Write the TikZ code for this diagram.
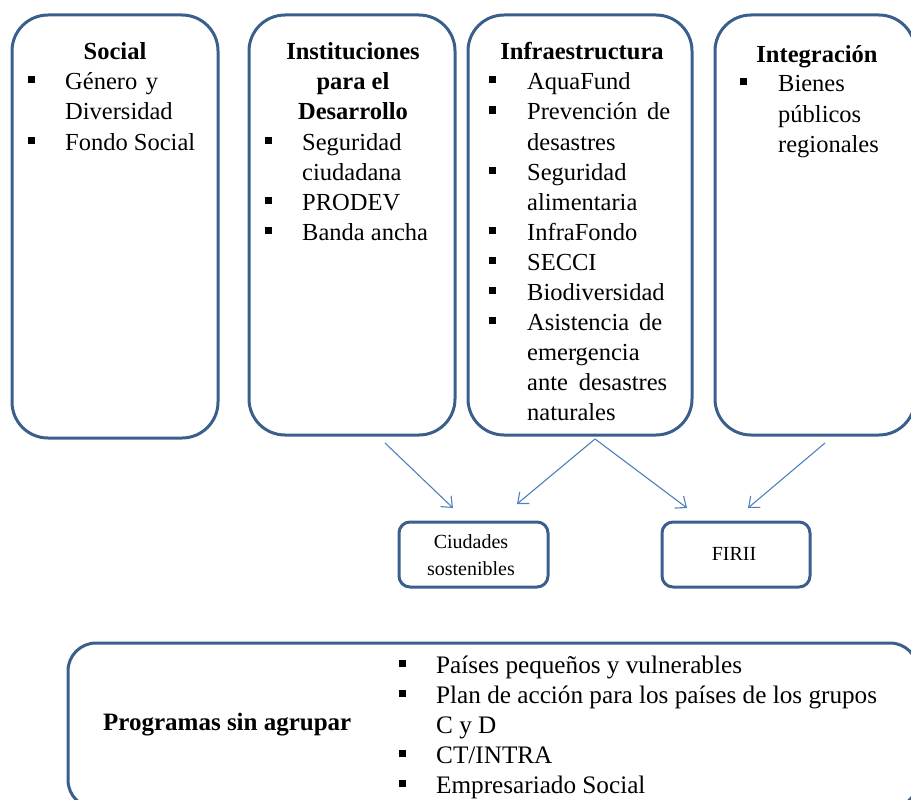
\documentclass[tikz,border=0pt]{standalone}
\usepackage{fontspec}
\setmainfont{Liberation Serif}
\usetikzlibrary{arrows.meta}
\definecolor{boxline}{RGB}{58,95,140}
\definecolor{arrowline}{RGB}{79,129,189}
\begin{document}
\begin{tikzpicture}[x=1pt,y=-1pt,
  bigbox/.style={draw=boxline, line width=3pt, rounded corners=36pt, inner sep=0pt},
  lowbox/.style={draw=boxline, line width=3pt, rounded corners=28pt, inner sep=0pt},
  smallbox/.style={draw=boxline, line width=3pt, rounded corners=11pt, inner sep=0pt},
  txt/.style={inner sep=0pt, anchor=base west, font=\fontsize{24.5}{30}\selectfont},
  ltxt/.style={inner sep=0pt, anchor=base west, font=\fontsize{25.2}{30}\selectfont},
  ttl/.style={inner sep=0pt, anchor=base, font=\fontsize{24.5}{30}\selectfont\bfseries},
  ltl/.style={inner sep=0pt, anchor=base west, font=\fontsize{25}{30}\selectfont\bfseries},
  stxt/.style={inner sep=0pt, anchor=base, font=\fontsize{20}{26}\selectfont},
  bul/.style={fill=black, inner sep=0pt, minimum size=7pt},
  arr/.style={draw=arrowline, line width=1.1pt, -{Straight Barb[length=9pt,width=15pt]}}
]
\useasboundingbox (0,0) rectangle (911,800);

% big boxes
\node[bigbox, minimum width=206pt, minimum height=423pt] (social) at (115,226.5) {};
\node[bigbox, minimum width=206pt, minimum height=420pt] (inst) at (352,225) {};
\node[bigbox, minimum width=224pt, minimum height=420pt] (infra) at (580,225) {};
\node[bigbox, minimum width=200pt, minimum height=420pt] (integ) at (815,225) {};
\node[lowbox, minimum width=850pt, minimum height=165pt] (prog) at (493,725.5) {};
\node[smallbox, minimum width=149pt, minimum height=65pt] (ciud) at (473.5,554.5) {};
\node[smallbox, minimum width=148pt, minimum height=65pt] (firii) at (736,554.5) {};

% Social
\node[ttl] (sT) at (115,60) {Social};
\node[bul] (sb1) at (31,80) {};
\node[txt] (s1) at (65,90) {\hbox to 93pt{Género\hfill y}};
\node[txt] (s2) at (65,120) {Diversidad};
\node[bul] (sb2) at (31,140) {};
\node[txt] (s3) at (65,150) {Fondo Social};

% Instituciones
\node[ttl] (iT1) at (353,60) {Instituciones};
\node[ttl] (iT2) at (353,90) {para el};
\node[ttl] (iT3) at (353,120) {Desarrollo};
\node[bul] (ib1) at (268,140) {};
\node[txt] (i1) at (302,150) {Seguridad};
\node[txt] (i2) at (302,180) {ciudadana};
\node[bul] (ib2) at (268,200) {};
\node[txt] (i3) at (302,210) {PRODEV};
\node[bul] (ib3) at (268,230) {};
\node[txt] (i4) at (302,240) {Banda ancha};

% Infraestructura
\node[ttl] (fT) at (582,60) {Infraestructura};
\node[bul] (fb1) at (492,80) {};
\node[txt] (f1) at (527,90) {AquaFund};
\node[bul] (fb2) at (492,110) {};
\node[txt] (f2) at (527,120) {\hbox to 143pt{Prevención\hfill de}};
\node[txt] (f3) at (527,150) {desastres};
\node[bul] (fb3) at (492,170) {};
\node[txt] (f4) at (527,180) {Seguridad};
\node[txt] (f5) at (527,210) {alimentaria};
\node[bul] (fb4) at (492,230) {};
\node[txt] (f6) at (527,240) {InfraFondo};
\node[bul] (fb5) at (492,260) {};
\node[txt] (f7) at (527,270) {SECCI};
\node[bul] (fb6) at (492,290) {};
\node[txt] (f8) at (527,300) {Biodiversidad};
\node[bul] (fb7) at (492,320) {};
\node[txt] (f9) at (527,330) {\hbox to 135pt{Asistencia\hfill de}};
\node[txt] (f10) at (527,360) {emergencia};
\node[txt] (f11) at (527,390) {\hbox to 140pt{ante\hfill desastres}};
\node[txt] (f12) at (527,420) {naturales};

% Integracion
\node[ttl] (gT) at (817,63) {Integración};
\node[bul] (gb1) at (743,82) {};
\node[txt] (g1) at (778,92) {Bienes};
\node[txt] (g2) at (778,122) {públicos};
\node[txt] (g3) at (778,152) {regionales};

% small boxes text
\node[stxt] (c1) at (471,548) {Ciudades};
\node[stxt] (c2) at (471,575) {sostenibles};
\node[stxt] (r1) at (734,560) {FIRII};

% arrows
\coordinate (a1s) at (385,443);
\coordinate (a1e) at (453,508);
\coordinate (a2s) at (595,439);
\coordinate (a2e) at (517,504);
\coordinate (a3e) at (687,508);
\coordinate (a4s) at (825,443);
\coordinate (a4e) at (748,508);
\draw[arr] (a1s) -- (a1e);
\draw[arr] (a2s) -- (a2e);
\draw[arr] (a2s) -- (a3e);
\draw[arr] (a4s) -- (a4e);

% Programas
\node[ltl] (pT) at (103,730) {Programas sin agrupar};
\node[bul] (pb1) at (402,663) {};
\node[ltxt] (p1) at (436,673) {Países pequeños y vulnerables};
\node[bul] (pb2) at (402,693) {};
\node[ltxt] (p2) at (436,703) {Plan de acción para los países de los grupos};
\node[ltxt] (p3) at (436,733) {C y D};
\node[bul] (pb3) at (402,753) {};
\node[ltxt] (p4) at (436,763) {CT/INTRA};
\node[bul] (pb4) at (402,783) {};
\node[ltxt] (p5) at (436,793) {Empresariado Social};
\end{tikzpicture}
\end{document}
